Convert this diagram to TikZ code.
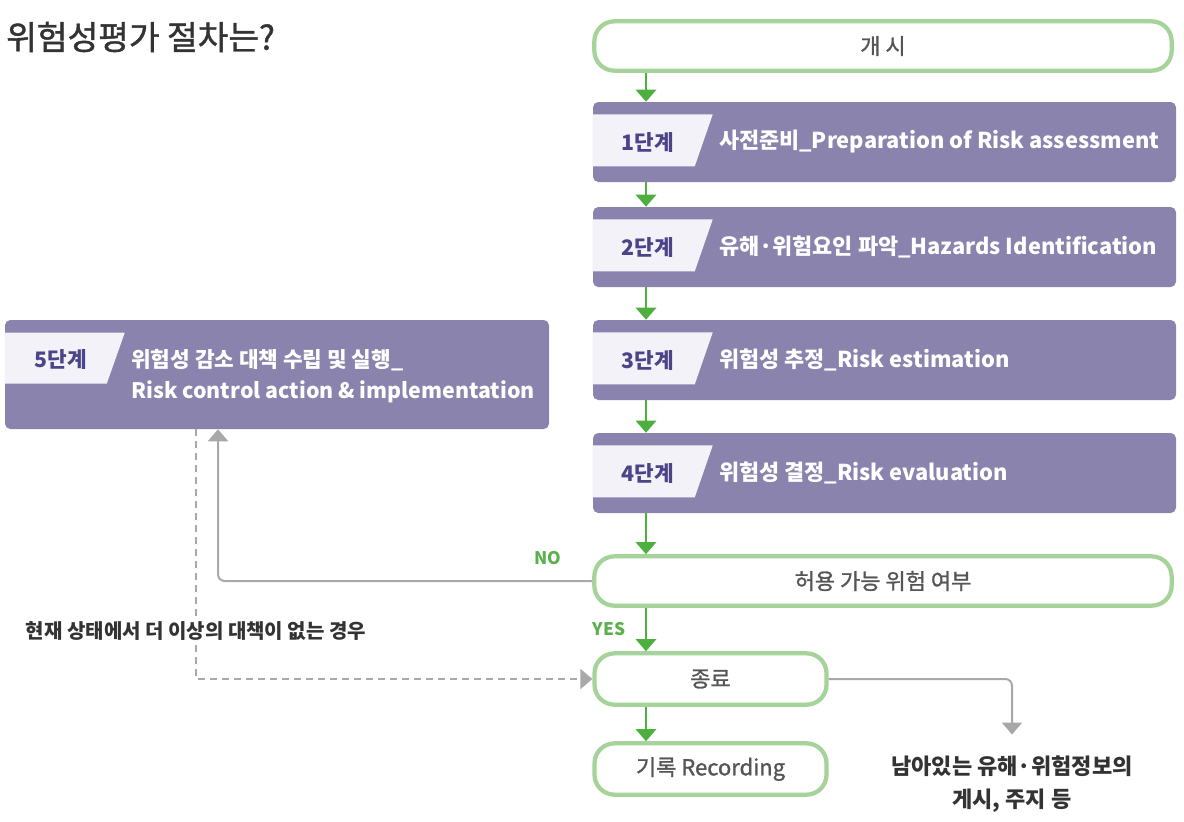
\documentclass[tikz,border=0pt]{standalone}
\usepackage{fontspec}
\setmainfont{Noto Sans CJK KR}
\newfontfamily\medfont{Noto Sans CJK KR}[FakeBold=1.2]
\usetikzlibrary{arrows.meta,calc}
\definecolor{purp}{HTML}{8A83AE}
\definecolor{tabfill}{HTML}{F3F2F8}
\definecolor{tabtxt}{HTML}{4B4488}
\definecolor{gborder}{HTML}{A5D39A}
\definecolor{garrowc}{HTML}{4CAF3E}
\definecolor{lgreen}{HTML}{5BB04B}
\definecolor{lgrey}{HTML}{A8A8A8}
\definecolor{txtgrey}{HTML}{555555}
\definecolor{darkt}{HTML}{333333}
\tikzset{
  gbox/.style={draw=gborder, line width=3.2pt, rounded corners=15pt, fill=white, text=txtgrey,
    font=\medfont\fontsize{16.5}{19}\selectfont, inner sep=0pt},
  pbox/.style={fill=purp, rounded corners=4pt, inner sep=0pt},
  tablbl/.style={text=tabtxt, font=\bfseries\fontsize{16}{19}\selectfont, inner sep=0pt},
  wtxt/.style={text=white, font=\bfseries\fontsize{16.4}{23.25}\selectfont, anchor=west, inner sep=0pt, align=left},
  garrow/.style={draw=garrowc, line width=2.2pt, -{Triangle[width=15pt,length=9pt]}},
  grarrow/.style={draw=lgrey, line width=1.5pt, -{Triangle[width=15pt,length=9pt]}, rounded corners=5pt},
  dasharrow/.style={draw=lgrey, line width=1.5pt, dash pattern=on 5pt off 4pt, -{Triangle[width=15pt,length=9pt]}},
  yn/.style={text=lgreen, font=\bfseries\fontsize{13}{15}\selectfont, inner sep=0pt},
  note/.style={text=darkt, font=\bfseries\fontsize{16.5}{24.75}\selectfont, inner sep=0pt, align=center},
}
\newcommand\mkstep[5]{%
  \node[pbox, minimum width=437.25pt, minimum height=60pt] (#1) at (#2,#3) {};
  \fill[tabfill] ([yshift=-9.5pt]#1.north west) -- ++(120,0) -- ++(-18,52) -- ++(-102,0) -- cycle;
  \node[tablbl] (#1l) at ([xshift=41.25pt]#1.west) {#4};
  \node[wtxt] (#1t) at ([xshift=94.5pt]#1.west) {#5};
}
\begin{document}
\begin{tikzpicture}[x=0.75pt,y=-0.75pt]
\fill[white] (0,0) rectangle (1184,821);
\useasboundingbox (0,0) rectangle (1184,821);

\node[anchor=west, text=darkt, font=\medfont\fontsize{25}{28}\selectfont, inner sep=0pt] (title) at (6,37) {위험성평가 절차는?};

\node[gbox, minimum width=433pt, minimum height=37pt] (start) at (883,46) {개 시};

\mkstep{s1}{884.5}{142}{1단계}{사전준비\_Preparation of Risk assessment}
\mkstep{s2}{884.5}{247}{2단계}{유해·위험요인 파악\_Hazards Identification}
\mkstep{s3}{884.5}{360}{3단계}{위험성 추정\_Risk estimation}
\mkstep{s4}{884.5}{473}{4단계}{위험성 결정\_Risk evaluation}

% step 5
\node[pbox, minimum width=408pt, minimum height=81.75pt] (s5) at (277,374.5) {};
\fill[tabfill] ([yshift=-9.75pt]s5.north west) -- ++(120,0) -- ++(-18,51) -- ++(-102,0) -- cycle;
\node[tablbl] (s5l) at (61,359) {5단계};
\node[wtxt, font=\bfseries\fontsize{16}{23.25}\selectfont] (s5t) at (131,376.5) {위험성 감소 대책 수립 및 실행\_\\Risk control action \& implementation};

\node[gbox, minimum width=433pt, minimum height=37pt] (allow) at (883,581) {허용 가능 위험 여부};
\node[gbox, minimum width=174pt, minimum height=38.5pt] (end) at (710.5,679) {종료};
\node[gbox, minimum width=174pt, minimum height=38.5pt] (rec) at (710.5,769) {기록 Recording};

\coordinate (ax) at (646,0);
\coordinate (nx) at (218,0);
\coordinate (dx) at (196,0);

\draw[garrow] (start.south -| ax) -- (s1.north -| ax);
\draw[garrow] (s1.south -| ax) -- (s2.north -| ax);
\draw[garrow] (s2.south -| ax) -- (s3.north -| ax);
\draw[garrow] (s3.south -| ax) -- (s4.north -| ax);
\draw[garrow] (s4.south -| ax) -- (allow.north -| ax);
\draw[garrow] (allow.south -| ax) -- (end.north -| ax);
\draw[garrow] (end.south -| ax) -- (rec.north -| ax);

\node[yn] (no) at (548,558) {NO};
\node[yn] (yes) at (609,629) {YES};

\draw[grarrow] (allow.west) -| (s5.south -| nx);

\draw[dasharrow] (s5.south -| dx) |- (end.west);
\node[fill=white, text=darkt, font=\bfseries\fontsize{15}{17}\selectfont, inner sep=3pt] (cond) at (196,631) {현재 상태에서 더 이상의 대책이 없는 경우};

\node[note] (remain) at (1012,784.5) {남아있는 유해·위험정보의\\게시, 주지 등};
\draw[grarrow] (end.east) -| ([yshift=16pt]remain.north);
\end{tikzpicture}
\end{document}
